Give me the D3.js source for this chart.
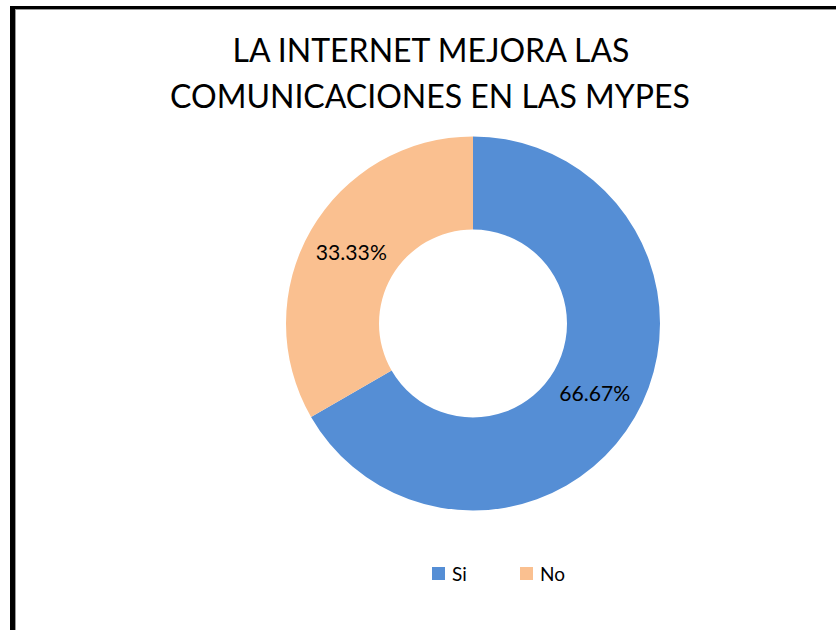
<!DOCTYPE html>
<html>
<head>
<meta charset="utf-8">
<script src="https://cdn.jsdelivr.net/npm/d3@7"></script>
<style>
  body { margin: 0; background: #fff; }
  svg { display: block; }
  text { font-family: Lato, "Open Sans", sans-serif; fill: #000; }
</style>
</head>
<body>
<div id="chart"></div>
<script>
const titleLines = ['LA INTERNET MEJORA LAS', 'COMUNICACIONES EN LAS MYPES'];
const categories = ['Si', 'No'];
const values = [66.67, 33.33];
const colors = ['#558ED5', '#FAC090'];

const width = 836, height = 630;
const cx = 473, cy = 323.5;
const outerR = 187, innerR = 94;

const svg = d3.select('#chart').append('svg')
    .attr('width', width)
    .attr('height', height);

/* frame: thick black left/top edges of the chart box */
svg.append('rect').attr('x', 10).attr('y', 6).attr('width', 5).attr('height', height - 6).attr('fill', '#000');
svg.append('rect').attr('x', 10).attr('y', 6).attr('width', width - 10).attr('height', 3).attr('fill', '#000');
svg.append('rect').attr('x', 15).attr('y', 9).attr('width', 1).attr('height', height - 9).attr('fill', '#999');
svg.append('rect').attr('x', 15).attr('y', 9).attr('width', width - 15).attr('height', 1).attr('fill', '#999');

// scale a text element's font so it spans the wanted width
function fitWidth(sel, target) {
    const node = sel.node();
    const fs = parseFloat(sel.attr('font-size'));
    const w = node.getComputedTextLength();
    sel.attr('font-size', (fs * target / w).toFixed(2));
}

const title = svg.append('g').classed('title', true);
const t1 = title.append('text')
    .attr('x', 431).attr('y', 62)
    .attr('text-anchor', 'middle')
    .attr('font-size', 28)
    .text(titleLines[0]);
const t2 = title.append('text')
    .attr('x', 430).attr('y', 108)
    .attr('text-anchor', 'middle')
    .attr('font-size', 28)
    .text(titleLines[1]);
fitWidth(t2, 520);
t1.attr('font-size', t2.attr('font-size'));

const data = categories.map((c, i) => ({name: c, value: values[i], color: colors[i]}));

const pie = d3.pie().sort(null).value(d => d.value);
const arc = d3.arc().innerRadius(innerR).outerRadius(outerR);

const g = svg.append('g').attr('transform', `translate(${cx},${cy})`);
const arcs = pie(data);

g.selectAll('path.slice')
    .data(arcs)
    .join('path')
    .classed('slice', true)
    .attr('d', arc)
    .attr('fill', d => d.data.color);

const labels = g.selectAll('text.lbl')
    .data(arcs)
    .join('text')
    .classed('lbl', true)
    .attr('transform', d => `translate(${arc.centroid(d)})`)
    .attr('dy', 7)
    .attr('text-anchor', 'middle')
    .attr('font-size', 19)
    .text(d => d3.format('.2f')(d.data.value) + '%');
labels.each(function () { fitWidth(d3.select(this), 71); });

/* legend */
const legendX = [432, 520];
const legend = svg.append('g').classed('legend', true);
const items = legend.selectAll('g')
    .data(data)
    .join('g')
    .attr('transform', (d, i) => `translate(${legendX[i]},567)`);
items.append('rect')
    .attr('width', 13).attr('height', 13)
    .attr('fill', d => d.color);
items.append('text')
    .attr('x', 20).attr('y', 13.5)
    .attr('font-size', 19)
    .text(d => d.name);
</script>
</body>
</html>
